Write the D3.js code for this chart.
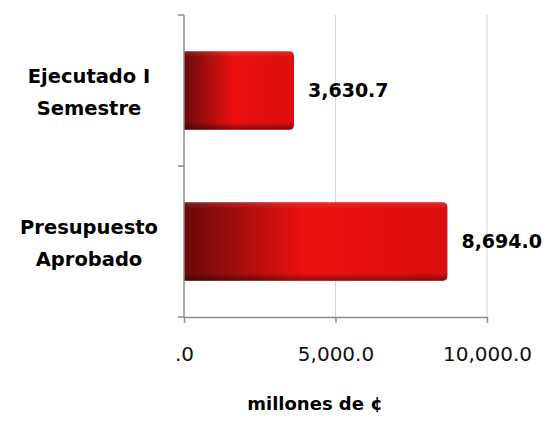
<!DOCTYPE html>
<html>
<head>
<meta charset="utf-8">
<script src="https://cdn.jsdelivr.net/npm/d3@7"></script>
<style>
  body { margin: 0; background: #fff; }
  text { font-family: "DejaVu Sans", sans-serif; }
</style>
</head>
<body>
<div id="chart"></div>
<script>
// data
const categories = [["Ejecutado I", "Semestre"], ["Presupuesto", "Aprobado"]];
const values = [3630.7, 8694.0];
const tickValues = [0, 5000, 10000];
const axisTitle = "millones de ¢";

const width = 553, height = 421;
const margin = { top: 15, right: 66, bottom: 104, left: 184 };
const innerW = 10000 * 0.0303;
const innerH = height - margin.top - margin.bottom;

const svg = d3.select("#chart").append("svg")
    .attr("width", width)
    .attr("height", height);

const defs = svg.append("defs");
const gradH = defs.append("linearGradient").attr("id", "barH")
    .attr("x1", "0%").attr("x2", "100%").attr("y1", "0%").attr("y2", "0%");
gradH.append("stop").attr("offset", "0%").attr("stop-color", "#6a0909");
gradH.append("stop").attr("offset", "20%").attr("stop-color", "#a30d0d");
gradH.append("stop").attr("offset", "45%").attr("stop-color", "#ec1010");
gradH.append("stop").attr("offset", "100%").attr("stop-color", "#dc0e0e");

const gradV = defs.append("linearGradient").attr("id", "barV")
    .attr("x1", "0%").attr("x2", "0%").attr("y1", "0%").attr("y2", "100%");
gradV.append("stop").attr("offset", "0%").attr("stop-color", "#fff").attr("stop-opacity", 0.12);
gradV.append("stop").attr("offset", "8%").attr("stop-color", "#fff").attr("stop-opacity", 0);
gradV.append("stop").attr("offset", "90%").attr("stop-color", "#000").attr("stop-opacity", 0);
gradV.append("stop").attr("offset", "100%").attr("stop-color", "#000").attr("stop-opacity", 0.4);

const g = svg.append("g").attr("transform", `translate(${margin.left},${margin.top})`);

const x = d3.scaleLinear().domain([0, 10000]).range([0, innerW]);
const y = d3.scaleBand().domain(d3.range(categories.length)).range([0, innerH]).paddingInner(0.48).paddingOuter(0.24);

// gridlines
g.selectAll(".grid")
    .data(tickValues.slice(1))
    .enter().append("line")
    .attr("x1", d => x(d)).attr("x2", d => x(d))
    .attr("y1", 0).attr("y2", innerH)
    .attr("stroke", "#d4d4d4").attr("stroke-width", 1);

// bars
const bars = g.selectAll(".bar").data(values).enter().append("g");
const barPath = (d, i) => {
    const w = x(d), y0 = y(i), h = y.bandwidth(), r = 5;
    return `M0,${y0} H${w - r} Q${w},${y0} ${w},${y0 + r} V${y0 + h - r} Q${w},${y0 + h} ${w - r},${y0 + h} H0 Z`;
};
bars.append("path").attr("d", barPath).attr("fill", "url(#barH)");
bars.append("path").attr("d", barPath).attr("fill", "url(#barV)");

// value labels
g.selectAll(".val").data(values).enter().append("text")
    .attr("x", d => x(d) + 14)
    .attr("y", (d, i) => y(i) + y.bandwidth() / 2)
    .attr("dy", "0.35em")
    .attr("font-size", 19).attr("font-weight", "bold").attr("fill", "#000")
    .text(d => d3.format(",.1f")(d));

// x axis
const xAxis = g.append("g").attr("transform", `translate(0,${innerH})`)
    .call(d3.axisBottom(x).tickValues(tickValues).tickSize(6).tickSizeOuter(0)
        .tickFormat(d => d === 0 ? ".0" : d3.format(",.1f")(d)));
xAxis.select(".domain").attr("stroke", "#8c8c8c").attr("stroke-width", 1.5);
xAxis.selectAll(".tick line").attr("stroke", "#8c8c8c").attr("stroke-width", 1.5);
xAxis.selectAll(".tick text")
    .attr("y", 30).attr("font-size", 20).attr("fill", "#111")
    .style("font-family", "'DejaVu Sans', sans-serif");

// y axis
const yAxis = g.append("g");
yAxis.append("line").attr("x1", 0).attr("x2", 0).attr("y1", 0).attr("y2", innerH)
    .attr("stroke", "#8c8c8c").attr("stroke-width", 1.5);
yAxis.selectAll(".yt").data([0, innerH / 2, innerH]).enter().append("line")
    .attr("x1", -6).attr("x2", 0).attr("y1", d => d).attr("y2", d => d)
    .attr("stroke", "#8c8c8c").attr("stroke-width", 1.5);

// category labels
const cat = g.selectAll(".cat").data(categories).enter().append("text")
    .attr("text-anchor", "middle")
    .attr("font-size", 19.5).attr("font-weight", "bold").attr("fill", "#000")
    .attr("transform", (d, i) => `translate(${89 - margin.left},${y(i) + y.bandwidth() / 2 + 2})`);
cat.selectAll("tspan").data(d => d).enter().append("tspan")
    .attr("x", 0)
    .attr("y", (d, j) => (j === 0 ? -16 : 16))
    .attr("dy", "0.35em")
    .text(d => d);

// axis title
svg.append("text")
    .attr("x", 315).attr("y", 410)
    .attr("text-anchor", "middle")
    .attr("font-size", 18).attr("font-weight", "bold").attr("fill", "#000")
    .text(axisTitle);
</script>
</body>
</html>
